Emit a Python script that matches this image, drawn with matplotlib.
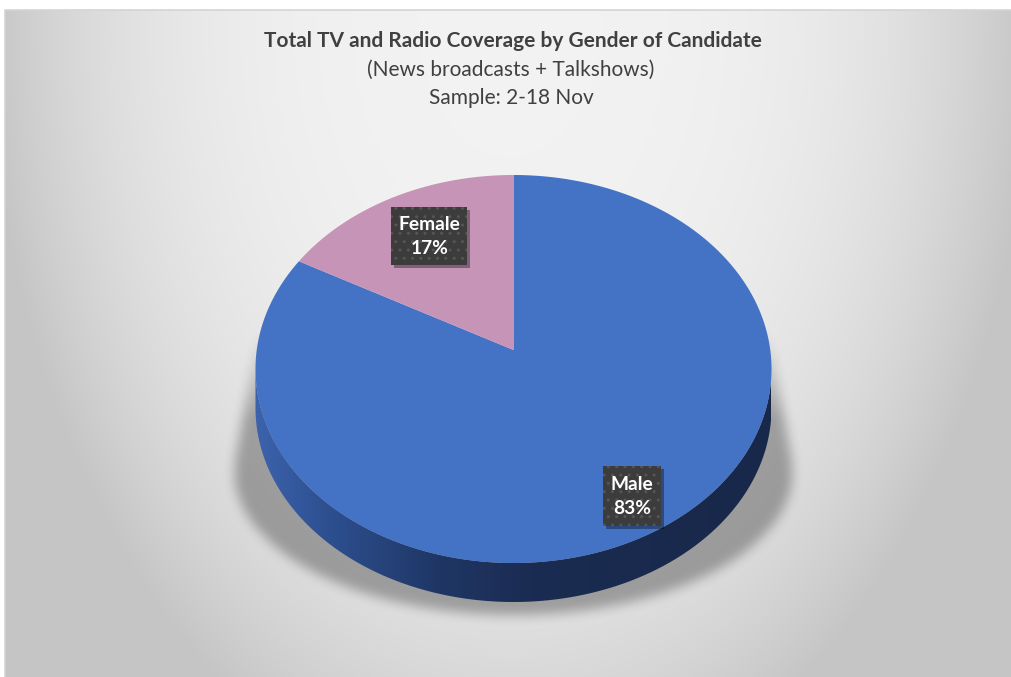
import numpy as np
import matplotlib
matplotlib.use('Agg')
import matplotlib.pyplot as plt
from matplotlib.patches import Polygon, Rectangle
from matplotlib.path import Path

# ---------------- data ----------------
labels = ['Male', 'Female']
values = [83, 17]
colors = ['#4472C4', '#C594B6']
title = 'Total TV and Radio Coverage by Gender of Candidate'
subtitle1 = '(News broadcasts + Talkshows)'
subtitle2 = 'Sample: 2-18 Nov'

W, H = 1012, 677
fig = plt.figure(figsize=(W / 100, H / 100), dpi=100)
ax = fig.add_axes([0, 0, 1, 1])
ax.set_xlim(0, W)
ax.set_ylim(H, 0)
ax.axis('off')

FONT = ['Lato', 'DejaVu Sans']

# ---------------- background ----------------
yy, xx = np.mgrid[0:H, 0:W] + 0.5
r = np.clip(np.sqrt(((xx - 510) / 520) ** 2 + ((yy - 15) / 800) ** 2), 0, 1)
g = 0.775 + 0.175 * (1 - r ** 3)
bg = np.dstack([g, g, g])
outside = (xx < 5) | (yy < 10)
bg[outside] = 1.0
ax.imshow(bg, extent=(0, W, H, 0), interpolation='nearest', zorder=0)
ax.plot([5, 5, W + 5], [H + 5, 10, 10], color='#d4d4d4', lw=1.2, zorder=1)

# ---------------- pie geometry ----------------
cx, cy, a, b = 513.5, 369.0, 258.0, 194.0
apx, apy = 513.5, 350.0
depth = 39.0


def rim_point(phi_deg):
    p = np.deg2rad(phi_deg)
    du = np.cos(p) / a
    dv = -np.sin(p) / a
    v = (apy - cy) / b
    A = du * du + dv * dv
    B = 2 * v * dv
    C = v * v - 1
    t = (-B + np.sqrt(B * B - 4 * A * C)) / (2 * A)
    return apx + t * np.cos(p), apy - t * np.sin(p) * b / a


def blur1d(arr, rad, axis):
    arr = np.moveaxis(arr, axis, -1)
    pad = np.pad(arr, [(0, 0)] * (arr.ndim - 1) + [(rad + 1, rad)], mode='edge')
    c = np.cumsum(pad, axis=-1)
    out = (c[..., 2 * rad + 1:] - c[..., :-2 * rad - 1]) / (2 * rad + 1)
    return np.moveaxis(out, -1, axis)


def hull(points):
    pts = sorted(map(tuple, points))
    def cross(o, p, q):
        return (p[0] - o[0]) * (q[1] - o[1]) - (p[1] - o[1]) * (q[0] - o[0])
    lower, upper = [], []
    for p in pts:
        while len(lower) >= 2 and cross(lower[-2], lower[-1], p) <= 0:
            lower.pop()
        lower.append(p)
    for p in reversed(pts):
        while len(upper) >= 2 and cross(upper[-2], upper[-1], p) <= 0:
            upper.pop()
        upper.append(p)
    return np.array(lower[:-1] + upper[:-1])

# ---------------- shadow ----------------
th = np.linspace(0, 2 * np.pi, 200)
e1 = np.c_[cx + 260 * np.cos(th), cy + 196 * np.sin(th)]
e2 = np.c_[cx + 279 * np.cos(th), 472 + 143 * np.sin(th)]
hp = hull(np.vstack([e1, e2]))
mask = Path(hp).contains_points(np.c_[xx.ravel(), yy.ravel()]).reshape(H, W).astype(float)
for _ in range(3):
    mask = blur1d(mask, 5, 0)
    mask = blur1d(mask, 5, 1)
fade = np.clip((yy - 330) / 90, 0, 1)
alpha = 0.30 * mask * fade
sh = np.zeros((H, W, 4))
sh[..., 3] = alpha
ax.imshow(sh, extent=(0, W, H, 0), interpolation='bilinear', zorder=2)

# ---------------- side of cylinder ----------------
tt = np.linspace(0, np.pi, 300)
top_arc = np.c_[cx + a * np.cos(tt), cy + b * np.sin(tt)]
bot_arc = top_arc[::-1] + [0, depth]
side_poly = Polygon(np.vstack([top_arc, bot_arc]), closed=True, fc='none', ec='none', zorder=3)
ax.add_patch(side_poly)
gx = np.linspace(cx - a, cx + a, 600)
stops_x = [cx - a, 330, 440, 530, cx + a]
stops_c = np.array([[0x3c, 0x63, 0xad], [0x2d, 0x4f, 0x8f], [0x1f, 0x36, 0x65],
                    [0x1b, 0x2c, 0x52], [0x17, 0x28, 0x4a]]) / 255.0
grad = np.stack([np.interp(gx, stops_x, stops_c[:, k]) for k in range(3)], axis=-1)
grad_img = np.repeat(grad[None, :, :], 2, axis=0)
im = ax.imshow(grad_img, extent=(cx - a, cx + a, cy + b + depth + 2, cy - 2),
               interpolation='bilinear', zorder=3, aspect='auto')
im.set_clip_path(side_poly)
ax.set_xlim(0, W)
ax.set_ylim(H, 0)

# ---------------- top face slices (clockwise from 12 o'clock) ----------------
total = float(sum(values))
start = 90.0
for lab, val, col in zip(labels, values, colors):
    sweep = 360.0 * val / total
    end = start - sweep
    phis = np.linspace(start, end, max(int(abs(sweep) * 2), 10))
    pts = [rim_point(p) for p in phis]
    poly = np.vstack([[apx, apy], pts])
    ax.add_patch(Polygon(poly, closed=True, fc=col, ec='none', zorder=4))
    start = end

# ---------------- data labels ----------------
label_pos = {'Male': (632, 496), 'Female': (429.5, 236)}
box_size = {'Male': (58, 60), 'Female': (76, 58)}
for lab, val in zip(labels, values):
    x0, y0 = label_pos[lab]
    bw, bh = box_size[lab]
    ax.add_patch(Rectangle((x0 - bw / 2 + 3, y0 - bh / 2 + 3), bw, bh, fc='black',
                           alpha=0.35, ec='none', zorder=5))
    ax.add_patch(Rectangle((x0 - bw / 2, y0 - bh / 2), bw, bh, fc='#3c3c3c',
                           ec='#555555', hatch='..', lw=0, zorder=6))
    ax.text(x0, y0 + 1, f'{lab}\n{val}%', ha='center', va='center', color='white',
            fontsize=13.8, fontweight='bold', family=FONT, linespacing=1.5, zorder=7)

# ---------------- titles ----------------
ax.text(513, 41, title, ha='center', va='center', fontsize=15, fontweight='bold',
        color='#404040', family=FONT, zorder=7)
ax.text(511, 70, subtitle1, ha='center', va='center', fontsize=15, color='#404040',
        family=FONT, zorder=7)
ax.text(511, 98, subtitle2, ha='center', va='center', fontsize=15, color='#404040',
        family=FONT, zorder=7)

fig.savefig('out.png', dpi=100)
